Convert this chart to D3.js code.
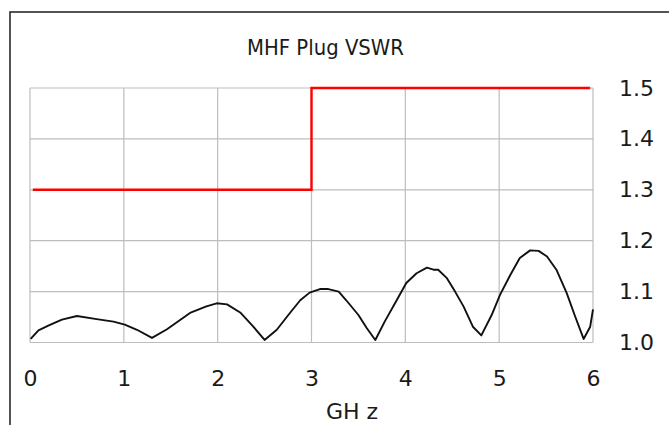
<!DOCTYPE html>
<html>
<head>
<meta charset="utf-8">
<script src="https://cdn.jsdelivr.net/npm/d3@7"></script>
<style>
  body { margin: 0; background: #fff; }
  svg text { font-family: "DejaVu Sans", Verdana, sans-serif; fill: #1a1a1a; }
</style>
</head>
<body>
<svg id="chart" width="669" height="425"></svg>
<script>
// measured VSWR curve (GHz, VSWR)
var freq = [0.007, 0.09, 0.195, 0.34, 0.50, 0.71, 0.89, 1.01, 1.14, 1.30, 1.46, 1.705, 1.88, 1.99, 2.10, 2.24, 2.38, 2.50,
  2.63, 2.77, 2.88, 2.98, 3.09, 3.18, 3.29, 3.37, 3.50, 3.59, 3.68, 3.78, 3.89, 4.01, 4.12, 4.23, 4.30, 4.35,
  4.44, 4.53, 4.62, 4.72, 4.81, 4.92, 5.01, 5.12, 5.22, 5.33, 5.42, 5.51, 5.61, 5.72, 5.81, 5.90, 5.97, 6.0];
var vswr = [1.007, 1.024, 1.033, 1.045, 1.052, 1.046, 1.041, 1.035, 1.025, 1.009, 1.026, 1.058, 1.071, 1.077, 1.075, 1.059, 1.031, 1.005,
  1.025, 1.058, 1.083, 1.098, 1.105, 1.105, 1.100, 1.083, 1.054, 1.028, 1.005, 1.041, 1.077, 1.117, 1.136, 1.147, 1.143, 1.143,
  1.127, 1.100, 1.071, 1.031, 1.014, 1.054, 1.094, 1.133, 1.166, 1.181, 1.180, 1.169, 1.143, 1.097, 1.051, 1.007, 1.031, 1.065];

// spec limit (step)
var limitFreq = [0.03, 3, 3, 5.97];
var limitVswr = [1.3, 1.3, 1.5, 1.5];

var xTicks = [0, 1, 2, 3, 4, 5, 6];
var yTicks = [1.0, 1.1, 1.2, 1.3, 1.4, 1.5];

var svg = d3.select("#chart");

var x = d3.scaleLinear().domain([0, 6]).range([30, 593]);
var y = d3.scaleLinear().domain([1.0, 1.5]).range([342.5, 88]);

// outer frame
svg.append("rect")
  .attr("x", 10).attr("y", 12)
  .attr("width", 700).attr("height", 450)
  .attr("fill", "none")
  .attr("stroke", "#2a2a2a")
  .attr("stroke-width", 1.6);

svg.append("text")
  .attr("x", 247).attr("y", 55)
  .attr("textLength", 157)
  .attr("lengthAdjust", "spacingAndGlyphs")
  .style("font-size", "21.5px")
  .text("MHF Plug VSWR");

// grid
var grid = svg.append("g").attr("stroke", "#bdbdbd").attr("stroke-width", 1.2);
grid.selectAll("line.v").data(xTicks).enter().append("line")
  .attr("x1", d => x(d)).attr("x2", d => x(d))
  .attr("y1", y(1.5)).attr("y2", y(1.0));
grid.selectAll("line.h").data(yTicks).enter().append("line")
  .attr("x1", x(0)).attr("x2", x(6))
  .attr("y1", d => y(d)).attr("y2", d => y(d));

// axes labels (no tick lines)
var xAxis = svg.append("g")
  .attr("transform", "translate(0," + 385.5 + ")")
  .call(d3.axisBottom(x).tickValues(xTicks).tickSize(0).tickPadding(0).tickFormat(d3.format("d")));
xAxis.select(".domain").remove();
xAxis.selectAll("text").attr("dy", 0).style("font-size", "22px").attr("fill", "#1a1a1a");

var yAxis = svg.append("g")
  .attr("transform", "translate(" + 619 + ",0)")
  .call(d3.axisRight(y).tickValues(yTicks).tickSize(0).tickPadding(0).tickFormat(d3.format(".1f")));
yAxis.select(".domain").remove();
yAxis.selectAll("text").style("font-size", "22px").attr("fill", "#1a1a1a");

svg.append("text")
  .attr("x", 352).attr("y", 419)
  .attr("text-anchor", "middle")
  .style("font-size", "22px")
  .text("GH z");

var line = d3.line().x(d => x(d[0])).y(d => y(d[1]));

svg.append("path")
  .datum(limitFreq.map((f, i) => [f, limitVswr[i]]))
  .attr("d", line)
  .attr("fill", "none")
  .attr("stroke", "#ff0000")
  .attr("stroke-width", 2.4);

svg.append("path")
  .datum(freq.map((f, i) => [f, vswr[i]]))
  .attr("d", line)
  .attr("fill", "none")
  .attr("stroke", "#111")
  .attr("stroke-width", 1.9)
  .attr("stroke-linejoin", "round");
</script>
</body>
</html>
